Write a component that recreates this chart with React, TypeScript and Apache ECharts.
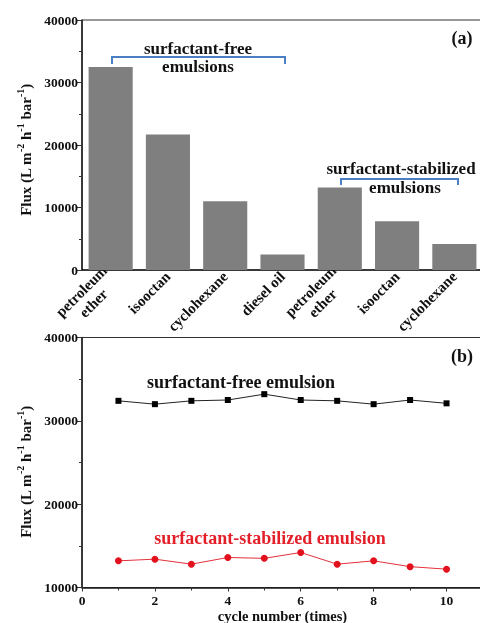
import React, { useEffect, useRef } from "react";
import * as echarts from "echarts";

const categories = ["petroleum\nether", "isooctan", "cyclohexane", "diesel oil", "petroleum\nether", "isooctan", "cyclohexane"];
const fluxBars = [32500, 21700, 11000, 2500, 13200, 7800, 4150];
const cycles = [1, 2, 3, 4, 5, 6, 7, 8, 9, 10];
const freeFlux = [32400, 32000, 32400, 32500, 33200, 32500, 32400, 32000, 32500, 32100];
const stabFlux = [13200, 13400, 12800, 13600, 13500, 14200, 12800, 13200, 12500, 12200];

const FONT = "'Liberation Serif', 'Times New Roman', serif";

export default function App() {
  const ref = useRef<HTMLDivElement>(null);
  useEffect(() => {
    if (!ref.current) return;
    const chart = echarts.init(ref.current, null, { renderer: "svg" });
    const axisLineStyle = { color: "#1a1a1a", width: 1.5 };
    const tickLabel = {
      fontFamily: FONT,
      fontWeight: "bold" as const,
      fontSize: 13.5,
      color: "#111",
      formatter: (v: number) => String(v),
    };
    const yName = (y: number) => ({
      type: "text",
      x: 24,
      y,
      rotation: Math.PI / 2,
      style: {
        text: "{m|Flux (L m}{s|-2}{m| h}{s|-1}{m| bar}{s|-1}{m|)}",
        align: "center",
        verticalAlign: "middle",
        rich: {
          m: { fontFamily: FONT, fontWeight: "bold", fontSize: 15, lineHeight: 18, verticalAlign: "bottom", fill: "#111" },
          s: { fontFamily: FONT, fontWeight: "bold", fontSize: 10, lineHeight: 18, verticalAlign: "top", fill: "#111" },
        },
      },
    });
    const txt = (x: number, y: number, text: string, size: number, color = "#111", lh = 18) => ({
      type: "text",
      x,
      y,
      style: {
        text,
        fontFamily: FONT,
        fontWeight: "bold",
        fontSize: size,
        lineHeight: lh,
        fill: color,
        align: "center",
        verticalAlign: "middle",
      },
    });
    const bracketColor = "#4a7fc4";
    chart.setOption({
      animation: false,
      grid: [
        { left: 82, top: 20, height: 250, width: 401, outerBoundsMode: "none", containLabel: false, show: true, borderColor: "#333", borderWidth: 1 },
        { left: 82, top: 337.5, height: 250, width: 401, outerBoundsMode: "none", containLabel: false, show: true, borderColor: "#333", borderWidth: 1 },
      ],
      xAxis: [
        {
          type: "category",
          gridIndex: 0,
          data: categories,
          axisLine: { lineStyle: axisLineStyle },
          axisTick: { alignWithLabel: true, inside: true, length: 3, lineStyle: { color: "#333" } },
          axisLabel: {
            interval: 0,
            rotate: 45,
            margin: 4,
            hideOverlap: false,
            fontFamily: FONT,
            fontWeight: "bold",
            fontSize: 15,
            color: "#111",
            formatter: (v: string) => v.split("\n").map((s) => "{c|" + s + "}").join("\n"),
            rich: {
              c: { align: "center", fontFamily: FONT, fontWeight: "bold", fontSize: 15, lineHeight: 17, color: "#111" },
            },
          },
        },
        {
          type: "value",
          gridIndex: 1,
          min: 0,
          max: 11,
          interval: 2,
          axisLine: { lineStyle: axisLineStyle },
          axisTick: { length: 4, lineStyle: { color: "#333" } },
          minorTick: { show: true, splitNumber: 2, length: 3, lineStyle: { color: "#333" } },
          splitLine: { show: false },
          axisLabel: {
            ...tickLabel,
            margin: 6,
            formatter: (v: number) => (v % 2 === 0 ? String(v) : ""),
          },
          name: "cycle number (times)",
          nameLocation: "middle",
          nameGap: 20,
          nameTextStyle: { fontFamily: FONT, fontWeight: "bold", fontSize: 14.5, color: "#111" },
        },
      ],
      yAxis: [
        {
          type: "value",
          gridIndex: 0,
          min: 0,
          max: 40000,
          interval: 10000,
          axisLine: { show: true, lineStyle: axisLineStyle },
          axisTick: { show: true, length: 6, lineStyle: { color: "#333" } },
          minorTick: { show: true, splitNumber: 2, length: 3, lineStyle: { color: "#333" } },
          splitLine: { show: false },
          axisLabel: { ...tickLabel, margin: 4 },
        },
        {
          type: "value",
          gridIndex: 1,
          min: 10000,
          max: 40000,
          interval: 10000,
          axisLine: { show: true, lineStyle: axisLineStyle },
          axisTick: { show: true, length: 6, lineStyle: { color: "#333" } },
          minorTick: { show: true, splitNumber: 2, length: 3, lineStyle: { color: "#333" } },
          splitLine: { show: false },
          axisLabel: { ...tickLabel, margin: 4 },
        },
      ],
      series: [
        {
          type: "bar",
          xAxisIndex: 0,
          yAxisIndex: 0,
          data: fluxBars,
          barWidth: "77%",
          itemStyle: { color: "#7f7f7f" },
        },
        {
          type: "line",
          xAxisIndex: 1,
          yAxisIndex: 1,
          data: cycles.map((c, i) => [c, freeFlux[i]]),
          symbol: "rect",
          symbolSize: 6,
          lineStyle: { color: "#222", width: 1 },
          itemStyle: { color: "#000" },
        },
        {
          type: "line",
          xAxisIndex: 1,
          yAxisIndex: 1,
          data: cycles.map((c, i) => [c, stabFlux[i]]),
          symbol: "circle",
          symbolSize: 7,
          lineStyle: { color: "#e5303a", width: 1 },
          itemStyle: { color: "#e3101e" },
        },
      ],
      graphic: [
        yName(150),
        yName(472),
        txt(198, 57, "surfactant-free\nemulsions", 17),
        { type: "polyline", shape: { points: [[112, 64], [112, 57], [285, 57], [285, 64]] }, style: { stroke: bracketColor, lineWidth: 2, fill: null } },
        txt(401, 168, "surfactant-stabilized", 17),
        txt(405, 187, "emulsions", 17),
        { type: "polyline", shape: { points: [[341, 185], [341, 179], [458, 179], [458, 185]] }, style: { stroke: bracketColor, lineWidth: 2, fill: null } },
        txt(462, 38, "(a)", 18),
        txt(462, 356, "(b)", 18),
        txt(241, 382, "surfactant-free emulsion", 18),
        txt(270, 538, "surfactant-stabilized emulsion", 18, "#e3202a"),
      ],
    });
    return () => chart.dispose();
  }, []);
  return <div ref={ref} style={{ position: "fixed", left: 0, top: 0, width: 480, height: 623 }} />;
}
